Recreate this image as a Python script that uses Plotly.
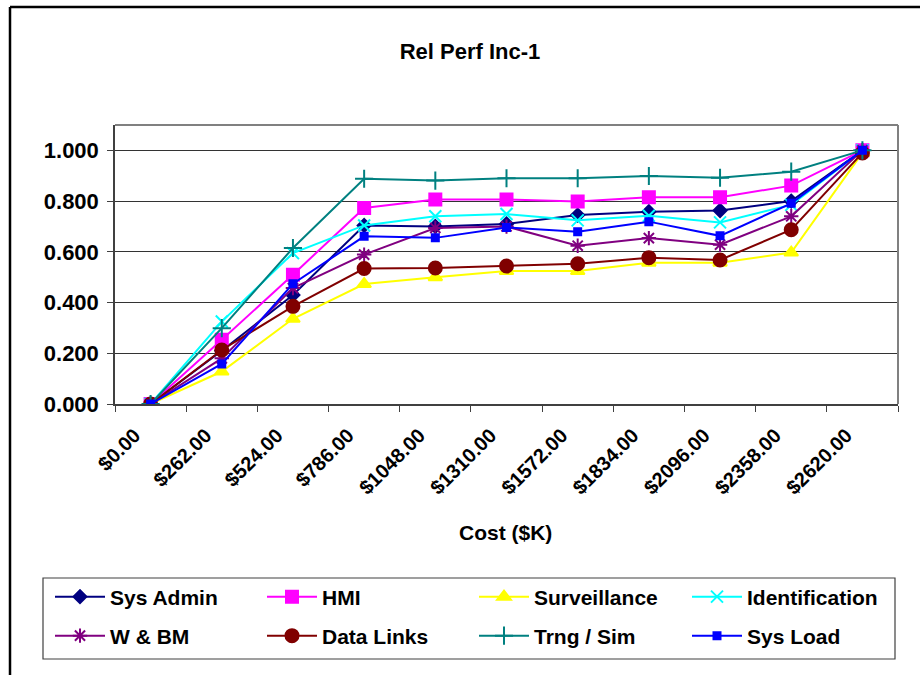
import plotly.graph_objects as go

cost_labels = ["$0.00", "$262.00", "$524.00", "$786.00", "$1048.00", "$1310.00",
               "$1572.00", "$1834.00", "$2096.00", "$2358.00", "$2620.00"]

sys_admin      = [0, 0.210, 0.430, 0.704, 0.700, 0.710, 0.745, 0.758, 0.763, 0.800, 1.0]
hmi            = [0, 0.253, 0.510, 0.773, 0.806, 0.806, 0.798, 0.815, 0.815, 0.861, 1.0]
surveillance   = [0, 0.128, 0.336, 0.473, 0.500, 0.524, 0.524, 0.557, 0.557, 0.597, 0.99]
identification = [0, 0.325, 0.595, 0.704, 0.740, 0.749, 0.724, 0.742, 0.716, 0.785, 1.0]
w_bm           = [0, 0.180, 0.457, 0.589, 0.694, 0.700, 0.624, 0.654, 0.628, 0.740, 1.0]
data_links     = [0, 0.213, 0.385, 0.534, 0.536, 0.544, 0.553, 0.577, 0.568, 0.687, 0.99]
trng_sim       = [0, 0.299, 0.615, 0.888, 0.881, 0.890, 0.890, 0.899, 0.892, 0.916, 1.0]
sys_load       = [0, 0.158, 0.474, 0.661, 0.655, 0.696, 0.679, 0.719, 0.663, 0.791, 1.0]

series = [
    ("Sys Admin", sys_admin, "#000080", "diamond", 10),
    ("HMI", hmi, "#FF00FF", "square", 12),
    ("Surveillance", surveillance, "#FFFF00", "triangle-up", 12),
    ("Identification", identification, "#00FFFF", "x-thin-open", 12),
    ("W & BM", w_bm, "#800080", "asterisk-open", 12),
    ("Data Links", data_links, "#800000", "circle", 13),
    ("Trng / Sim", trng_sim, "#008080", "cross-thin-open", 13),
    ("Sys Load", sys_load, "#0000FF", "square", 7),
]

W, H = 920, 675
PL, PR, PT, PB = 115, 898, 125, 404   # plot area pixels
LEG_COLS = [50, 262, 474, 687]        # legend column x (pixels)
LEG_ROWS = [597, 636]                 # legend row centre y (pixels)


def px(x):
    return (x - PL) / (PR - PL)


def py(y):
    return (PB - y) / (PB - PT)


FONT = "Liberation Sans, Arial, sans-serif"

fig = go.Figure()
legends = {}
for i, (name, vals, color, sym, size) in enumerate(series):
    lname = "legend" if i == 0 else f"legend{i + 1}"
    fig.add_trace(go.Scatter(
        x=cost_labels, y=vals, name=name, mode="lines+markers",
        line=dict(color=color, width=2),
        marker=dict(symbol=sym, size=size, color=color,
                    line=dict(color=color, width=2)),
        legend=lname,
    ))
    legends[lname] = dict(
        orientation="h", xref="container", yref="container",
        x=LEG_COLS[i % 4] / W, y=1 - LEG_ROWS[i // 4] / H,
        xanchor="left", yanchor="middle", itemwidth=50,
        font=dict(family=FONT, size=21, color="black", weight="bold"),
        bgcolor="rgba(0,0,0,0)", borderwidth=0,
    )

fig.update_layout(
    width=W, height=H,
    margin=dict(l=PL, r=W - PR, t=PT, b=H - PB, pad=0),
    paper_bgcolor="white", plot_bgcolor="white",
    font=dict(family=FONT, color="black"),
    title=dict(text="Rel Perf Inc-1", xref="container", yref="container",
               x=470 / W, y=1 - 51 / H, xanchor="center", yanchor="middle",
               font=dict(family=FONT, size=22, color="black", weight="bold")),
    xaxis=dict(
        type="category", tickson="boundaries", ticks="outside", ticklen=6,
        tickcolor="#404040", tickwidth=1, tickangle=-45,
        showgrid=False, showline=True, linecolor="#404040", linewidth=1.5,
        tickfont=dict(family=FONT, size=20, color="black", weight="bold"),
        range=[-0.5, 10.5], ticklabelshift=-16, ticklabelstandoff=10,
    ),
    yaxis=dict(
        range=[0, 1.1], dtick=0.2, tick0=0, tickformat=".3f",
        ticks="outside", ticklen=6, tickcolor="#404040",
        showgrid=True, gridcolor="#333333", gridwidth=1,
        showline=True, linecolor="#404040", linewidth=1.5, zeroline=False,
        tickfont=dict(family=FONT, size=22, color="black", weight="bold"),
        ticklabelstandoff=4,
    ),
    annotations=[dict(
        text="Cost ($K)", xref="paper", yref="paper", x=px(505), y=py(532),
        showarrow=False, xanchor="center", yanchor="middle",
        font=dict(family=FONT, size=21, color="black", weight="bold"),
    )],
    shapes=[
        dict(type="line", xref="paper", yref="paper", x0=0, x1=1, y0=1, y1=1,
             line=dict(color="#808080", width=2), layer="above"),
        dict(type="line", xref="paper", yref="paper", x0=1, x1=1, y0=0, y1=1,
             line=dict(color="#808080", width=2), layer="above"),
        dict(type="rect", xref="paper", yref="paper",
             x0=px(43), x1=px(895), y0=py(659), y1=py(578),
             line=dict(color="#404040", width=1.2)),
        dict(type="line", xref="paper", yref="paper",
             x0=px(10), x1=px(10), y0=py(7), y1=py(700),
             line=dict(color="black", width=2.5)),
        dict(type="line", xref="paper", yref="paper",
             x0=px(10), x1=px(940), y0=py(7), y1=py(7),
             line=dict(color="black", width=2.5)),
    ],
    showlegend=True,
    **legends,
)

fig.write_html("out.html", config={"displayModeBar": False},
               post_script="document.body.style.margin='0';document.body.style.overflow='hidden';")
